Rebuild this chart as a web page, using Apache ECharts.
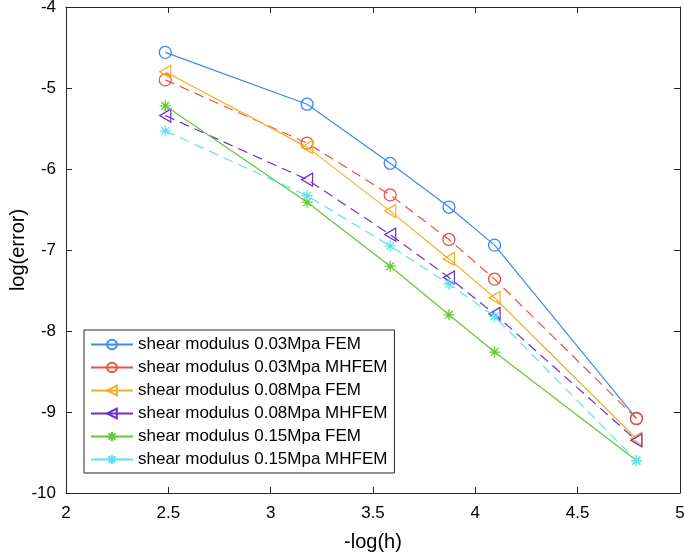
<!DOCTYPE html>
<html>
<head>
<meta charset="utf-8">
<script src="https://cdn.jsdelivr.net/npm/echarts@6/dist/echarts.min.js"></script>
<style>html,body{margin:0;padding:0;background:#fff;}#c{width:685px;height:556px;}</style>
</head>
<body>
<div id="c"></div>
<script>
const xValues = [2.485, 3.178, 3.584, 3.871, 4.094, 4.787];
const fem003 = [-4.56, -5.20, -5.93, -6.47, -6.94, -9.08];
const mhfem003 = [-4.90, -5.68, -6.32, -6.87, -7.36, -9.08];
const fem008 = [-4.80, -5.73, -6.52, -7.11, -7.59, -9.33];
const mhfem008 = [-5.34, -6.13, -6.81, -7.34, -7.79, -9.35];
const fem015 = [-5.22, -6.41, -7.20, -7.80, -8.26, -9.60];
const mhfem015 = [-5.53, -6.33, -6.95, -7.42, -7.82, -9.60];
const names = [
  'shear modulus 0.03Mpa FEM',
  'shear modulus 0.03Mpa MHFEM',
  'shear modulus 0.08Mpa FEM',
  'shear modulus 0.08Mpa MHFEM',
  'shear modulus 0.15Mpa FEM',
  'shear modulus 0.15Mpa MHFEM'
];
const xTicks = [2, 2.5, 3, 3.5, 4, 4.5, 5];
const yTicks = [-10, -9, -8, -7, -6, -5, -4];
const xTitle = '-log(h)';
const yTitle = 'log(error)';

const colors = ['#3a8af5', '#ef4f3a', '#f5ae2a', '#6c2fd2', '#62c92e', '#5fe1f2'];
const triLeft = 'path://M0,5 L10,0 L10,10 Z';
const star = 'path://M5,0 L5,10 M0,5 L10,5 M1.5,1.5 L8.5,8.5 M1.5,8.5 L8.5,1.5';
const symbols = ['circle', 'circle', triLeft, triLeft, star, star];
const sizes = [12, 12, [11, 13], [11, 13], 11, 11];
const dashed = [false, true, false, true, false, true];
const allData = [fem003, mhfem003, fem008, mhfem008, fem015, mhfem015];

const series = allData.map((vals, i) => ({
  name: names[i],
  type: 'line',
  data: vals.map((v, k) => [xValues[k], v]),
  symbol: symbols[i],
  symbolSize: sizes[i],
  showAllSymbol: true,
  lineStyle: { color: colors[i], width: 1.2, type: dashed[i] ? [10, 6] : 'solid' },
  itemStyle: { color: 'rgba(255,255,255,0)', borderColor: colors[i], borderWidth: 1.3 },
  emphasis: { disabled: true },
  z: 2 + i
}));

const axisColor = '#262626';
const font = 'Liberation Sans, Arial, Helvetica, sans-serif';
const chart = echarts.init(document.getElementById('c'));
chart.setOption({
  animation: false,
  backgroundColor: '#fff',
  grid: { left: 66, right: 5, top: 7, bottom: 63, containLabel: false, outerBoundsMode: 'none' },
  graphic: [{
    type: 'text',
    x: 18, y: 250,
    rotation: Math.PI / 2,
    style: { text: yTitle, fontSize: 20, fill: '#000', fontFamily: font,
      align: 'center', verticalAlign: 'middle' }
  }],
  xAxis: [{
    type: 'value', min: 2, max: 5, interval: 0.5, position: 'bottom',
    name: xTitle, nameLocation: 'middle', nameGap: 39,
    nameTextStyle: { fontSize: 20, color: '#000', fontFamily: font },
    axisLine: { show: true, onZero: false, lineStyle: { color: axisColor, width: 1 } },
    axisTick: { show: true, inside: true, length: 6, lineStyle: { color: axisColor } },
    axisLabel: { fontSize: 17, color: '#000', margin: 12, fontFamily: font, hideOverlap: false,
      formatter: v => xTicks.includes(v) ? String(v) : '' },
    splitLine: { show: false }
  }, {
    type: 'value', min: 2, max: 5, interval: 0.5, position: 'top',
    axisLine: { show: true, onZero: false, lineStyle: { color: axisColor, width: 1 } },
    axisTick: { show: true, inside: true, length: 6, lineStyle: { color: axisColor } },
    axisLabel: { show: false }, splitLine: { show: false }
  }],
  yAxis: [{
    type: 'value', min: -10, max: -4, interval: 1, position: 'left',
    axisLine: { show: true, onZero: false, lineStyle: { color: axisColor, width: 1 } },
    axisTick: { show: true, inside: true, length: 6, lineStyle: { color: axisColor } },
    axisLabel: { fontSize: 17, color: '#000', margin: 10, fontFamily: font,
      formatter: v => yTicks.includes(v) ? String(v) : '' },
    splitLine: { show: false }
  }, {
    type: 'value', min: -10, max: -4, interval: 1, position: 'right',
    axisLine: { show: true, onZero: false, lineStyle: { color: axisColor, width: 1 } },
    axisTick: { show: true, inside: true, length: 6, lineStyle: { color: axisColor } },
    axisLabel: { show: false }, splitLine: { show: false }
  }],
  legend: {
    data: names,
    orient: 'vertical',
    left: 84, top: 330,
    itemWidth: 42, itemHeight: 12, itemGap: 6,
    padding: [6, 7, 5, 6],
    borderColor: '#262626', borderWidth: 1,
    backgroundColor: '#fff',
    lineStyle: { type: 'solid' },
    textStyle: { fontSize: 17, color: '#000', fontFamily: font },
    selectedMode: false
  },
  series: series
});
</script>
</body>
</html>
